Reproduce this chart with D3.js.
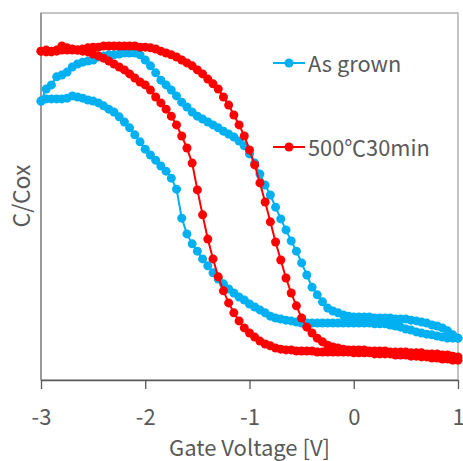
<!DOCTYPE html>
<html>
<head>
<meta charset="utf-8">
<script src="https://cdn.jsdelivr.net/npm/d3@7"></script>
<style>
  body { margin: 0; background: #fff; }
</style>
</head>
<body>
<div id="chart"></div>
<script>
// gate voltage steps of the sweep (V)
var gateVoltage = [
  -3, -2.95, -2.9, -2.85, -2.8, -2.75, -2.7, -2.65, -2.6, -2.55,
  -2.5, -2.45, -2.4, -2.35, -2.3, -2.25, -2.2, -2.15, -2.1, -2.05,
  -2, -1.95, -1.9, -1.85, -1.8, -1.75, -1.7, -1.65, -1.6, -1.55,
  -1.5, -1.45, -1.4, -1.35, -1.3, -1.25, -1.2, -1.15, -1.1, -1.05,
  -1, -0.95, -0.9, -0.85, -0.8, -0.75, -0.7, -0.65, -0.6, -0.55,
  -0.5, -0.45, -0.4, -0.35, -0.3, -0.25, -0.2, -0.15, -0.1, -0.05,
  0, 0.05, 0.1, 0.15, 0.2, 0.25, 0.3, 0.35, 0.4, 0.45,
  0.5, 0.55, 0.6, 0.65, 0.7, 0.75, 0.8, 0.85, 0.9, 0.95,
  1];

// As grown, C/Cox : branch that drops near -1.7 V
var asGrownLow = [
  0.760, 0.766, 0.766, 0.766, 0.766, 0.768, 0.774, 0.771, 0.768, 0.763,
  0.760, 0.755, 0.747, 0.738, 0.730, 0.717, 0.703, 0.687, 0.668, 0.649,
  0.629, 0.613, 0.599, 0.583, 0.569, 0.550, 0.520, 0.441, 0.398, 0.371,
  0.351, 0.330, 0.311, 0.292, 0.275, 0.262, 0.248, 0.237, 0.226, 0.218,
  0.207, 0.199, 0.191, 0.183, 0.174, 0.169, 0.166, 0.163, 0.161, 0.158,
  0.155, 0.155, 0.155, 0.155, 0.155, 0.155, 0.155, 0.155, 0.155, 0.155,
  0.155, 0.155, 0.155, 0.155, 0.153, 0.153, 0.153, 0.150, 0.147, 0.144,
  0.139, 0.136, 0.131, 0.128, 0.125, 0.123, 0.120, 0.117, 0.114, 0.114,
  0.114];
// As grown, C/Cox : branch that drops near -0.8 V
var asGrownHigh = [
  0.760, 0.793, 0.804, 0.826, 0.831, 0.839, 0.853, 0.861, 0.866, 0.869,
  0.872, 0.880, 0.883, 0.886, 0.886, 0.888, 0.891, 0.891, 0.891, 0.886,
  0.872, 0.856, 0.837, 0.817, 0.804, 0.790, 0.774, 0.757, 0.744, 0.730,
  0.719, 0.711, 0.703, 0.695, 0.687, 0.678, 0.670, 0.662, 0.651, 0.638,
  0.616, 0.591, 0.561, 0.531, 0.504, 0.471, 0.439, 0.409, 0.379, 0.351,
  0.319, 0.286, 0.253, 0.232, 0.213, 0.196, 0.188, 0.183, 0.177, 0.174,
  0.172, 0.172, 0.172, 0.172, 0.169, 0.169, 0.169, 0.169, 0.166, 0.166,
  0.166, 0.163, 0.161, 0.158, 0.155, 0.150, 0.147, 0.142, 0.134, 0.123,
  0.114];

// 500C 30min, C/Cox : branch that drops near -1.5 V
var annealLow = [
  0.896, 0.899, 0.896, 0.899, 0.910, 0.905, 0.899, 0.899, 0.896, 0.894,
  0.888, 0.883, 0.877, 0.869, 0.861, 0.853, 0.845, 0.834, 0.823, 0.812,
  0.804, 0.790, 0.771, 0.755, 0.738, 0.719, 0.695, 0.665, 0.632, 0.591,
  0.518, 0.450, 0.384, 0.330, 0.281, 0.243, 0.210, 0.183, 0.161, 0.142,
  0.128, 0.117, 0.106, 0.098, 0.093, 0.087, 0.084, 0.082, 0.082, 0.079,
  0.079, 0.079, 0.079, 0.076, 0.076, 0.076, 0.076, 0.076, 0.076, 0.076,
  0.074, 0.074, 0.074, 0.074, 0.071, 0.071, 0.071, 0.071, 0.068, 0.068,
  0.068, 0.065, 0.065, 0.063, 0.063, 0.060, 0.060, 0.057, 0.057, 0.054,
  0.054];
// 500C 30min, C/Cox : branch that drops near -0.8 V
var annealHigh = [
  0.896, 0.894, 0.894, 0.896, 0.899, 0.899, 0.902, 0.899, 0.902, 0.905,
  0.907, 0.907, 0.910, 0.910, 0.910, 0.910, 0.910, 0.910, 0.910, 0.907,
  0.907, 0.905, 0.902, 0.896, 0.891, 0.886, 0.880, 0.872, 0.864, 0.856,
  0.845, 0.834, 0.820, 0.807, 0.793, 0.771, 0.749, 0.722, 0.695, 0.665,
  0.627, 0.586, 0.537, 0.485, 0.431, 0.376, 0.327, 0.278, 0.237, 0.202,
  0.169, 0.144, 0.128, 0.114, 0.104, 0.095, 0.090, 0.087, 0.084, 0.082,
  0.082, 0.082, 0.082, 0.079, 0.079, 0.079, 0.079, 0.076, 0.076, 0.076,
  0.076, 0.074, 0.074, 0.074, 0.071, 0.071, 0.071, 0.068, 0.068, 0.065,
  0.063];

var xTicks = [-3, -2, -1, 0, 1];
var xTickLabels = ["-3", "-2", "-1", "0", "1"];
var seriesNames = ["As grown", "500℃30min"];

// set the dimensions and margins of the graph
var W = 463, H = 461;
var margin = {top: 13, right: 5, bottom: 81, left: 41},
    width = W - margin.left - margin.right,
    height = H - margin.top - margin.bottom;
var fontJP = "'Noto Sans CJK JP', 'Noto Sans', sans-serif";
var textColor = "#595959";
var colors = ["#00B0F0", "#FF0000"];

var svg = d3.select("#chart")
  .append("svg")
    .attr("width", W)
    .attr("height", H)
  .append("g")
    .attr("transform", "translate(" + margin.left + "," + margin.top + ")");

var x = d3.scaleLinear().domain([-3, 1]).range([0, width]);
var y = d3.scaleLinear().domain([0, 1]).range([height, 0]);

// plot area border
svg.append("rect")
  .attr("x", 0).attr("y", 0)
  .attr("width", width).attr("height", height)
  .style("fill", "none")
  .style("stroke", "#a6a6a6")
  .style("stroke-width", 1.3);

// Y axis line only
svg.append("line")
  .attr("x1", 0).attr("x2", 0)
  .attr("y1", 0).attr("y2", height)
  .style("stroke", "#8c8c8c")
  .style("stroke-width", 1.5);

// X axis
var xAxis = svg.append("g")
  .attr("transform", "translate(0," + height + ")")
  .call(d3.axisBottom(x)
    .tickValues(xTicks)
    .tickSize(9)
    .tickSizeOuter(0)
    .tickFormat(function(d, i) { return xTickLabels[i]; }));
xAxis.select(".domain").style("stroke", "#595959").style("stroke-width", 1.3);
xAxis.selectAll(".tick line").style("stroke", "#595959").style("stroke-width", 1.3);
xAxis.selectAll(".tick text")
  .attr("y", 45)
  .attr("dy", null)
  .style("font-family", fontJP)
  .style("font-size", "22px")
  .style("fill", textColor);

svg.append("text")
  .attr("text-anchor", "middle")
  .attr("x", x(-1))
  .attr("y", height + 76)
  .text("Gate Voltage [V]")
  .style("font-family", fontJP)
  .style("font-size", "22px")
  .style("fill", textColor);

svg.append("text")
  .attr("text-anchor", "middle")
  .attr("transform", "rotate(-90)")
  .attr("x", -(196 - margin.top))
  .attr("y", -11)
  .text("C/Cox")
  .style("font-family", fontJP)
  .style("font-size", "23px")
  .style("fill", textColor);

// build the loops: one branch forward, the other back
function loop(low, high) {
  var pts = low.map(function(c, i) { return [gateVoltage[i], c]; });
  var back = high.map(function(c, i) { return [gateVoltage[i], c]; }).reverse();
  return pts.concat(back);
}
var series = [loop(asGrownLow, asGrownHigh), loop(annealLow, annealHigh)];

var line = d3.line()
  .x(function(d) { return x(d[0]); })
  .y(function(d) { return y(d[1]); });

series.forEach(function(pts, s) {
  var g = svg.append("g");
  g.append("path")
    .datum(pts)
    .attr("d", line)
    .style("fill", "none")
    .style("stroke", colors[s])
    .style("stroke-width", 2);
  g.selectAll("circle")
    .data(pts)
    .enter()
    .append("circle")
      .attr("cx", function(d) { return x(d[0]); })
      .attr("cy", function(d) { return y(d[1]); })
      .attr("r", 4.5)
      .style("fill", colors[s]);
});

// legend
var legendY = [63, 147];
seriesNames.forEach(function(name, s) {
  var lg = svg.append("g")
    .attr("transform", "translate(" + (273 - margin.left) + "," + (legendY[s] - margin.top) + ")");
  lg.append("line")
    .attr("x1", 0).attr("x2", 32)
    .style("stroke", colors[s])
    .style("stroke-width", 2);
  lg.append("circle")
    .attr("cx", 16).attr("r", 4.5)
    .style("fill", colors[s]);
  lg.append("text")
    .attr("x", 35)
    .attr("y", 9)
    .text(name)
    .style("font-family", fontJP)
    .style("font-size", "21.8px")
    .style("fill", textColor);
});
</script>
</body>
</html>
